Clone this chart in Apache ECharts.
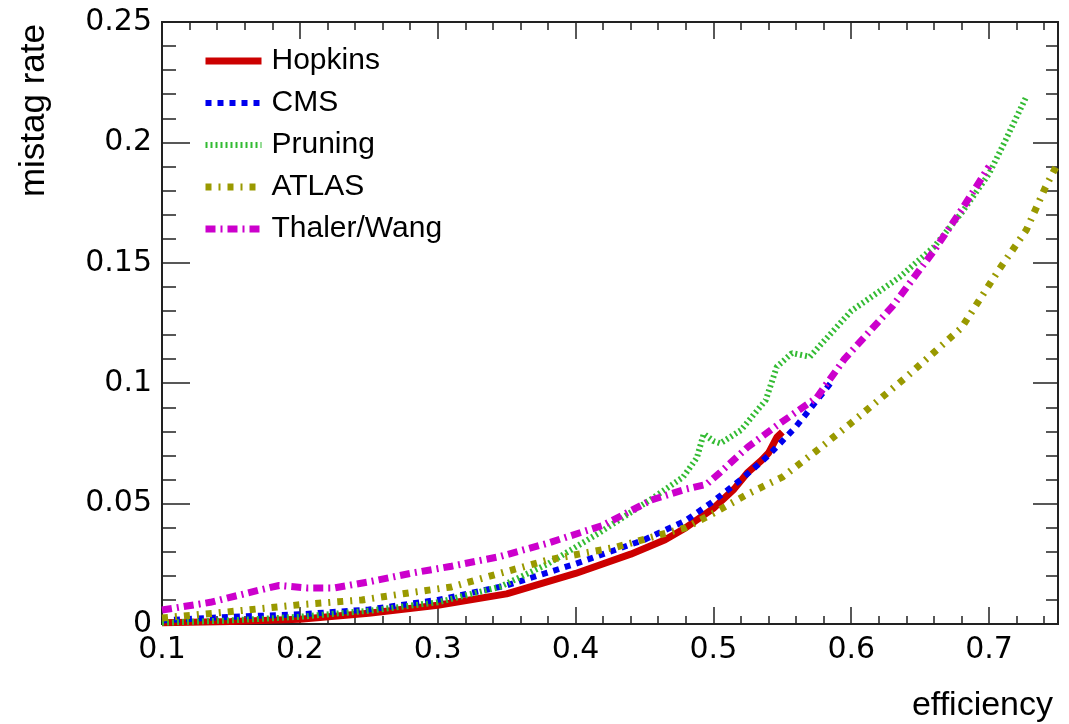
<!DOCTYPE html>
<html>
<head>
<meta charset="utf-8">
<script src="https://cdn.jsdelivr.net/npm/echarts@6/dist/echarts.min.js"></script>
<style>
  html, body { margin: 0; padding: 0; background: #fff; }
  #chart { width: 1069px; height: 724px; }
</style>
</head>
<body>
<div id="chart"></div>
<script>
// efficiency (x) / mistag rate (y)
var hopkinsX = [0.10, 0.15, 0.20, 0.25, 0.30, 0.35, 0.40, 0.44, 0.465, 0.48, 0.50, 0.515, 0.525, 0.535, 0.54, 0.546, 0.55];
var hopkinsY = [0.0005, 0.001, 0.002, 0.0045, 0.0078, 0.0125, 0.021, 0.029, 0.035, 0.040, 0.048, 0.056, 0.063, 0.068, 0.071, 0.0775, 0.0797];

var cmsX = [0.10, 0.15, 0.20, 0.25, 0.30, 0.35, 0.40, 0.45, 0.48, 0.50, 0.52, 0.54, 0.56, 0.585];
var cmsY = [0.0015, 0.003, 0.004, 0.006, 0.010, 0.016, 0.025, 0.035, 0.043, 0.051, 0.060, 0.070, 0.082, 0.100];

var pruningX = [0.10, 0.15, 0.20, 0.25, 0.30, 0.345, 0.38, 0.417, 0.454, 0.478, 0.488, 0.493, 0.50, 0.505, 0.52, 0.538, 0.546, 0.557, 0.57, 0.60, 0.635, 0.66, 0.68, 0.70, 0.712, 0.727];
var pruningY = [0.0005, 0.0015, 0.003, 0.0055, 0.009, 0.0154, 0.025, 0.0378, 0.0515, 0.061, 0.069, 0.079, 0.076, 0.075, 0.0805, 0.093, 0.1068, 0.1125, 0.111, 0.13, 0.144, 0.1566, 0.1707, 0.187, 0.201, 0.219];

var atlasX = [0.10, 0.14, 0.20, 0.245, 0.28, 0.31, 0.38, 0.43, 0.48, 0.50, 0.525, 0.55, 0.575, 0.60, 0.64, 0.68, 0.707, 0.727, 0.741, 0.75];
var atlasY = [0.0025, 0.0046, 0.008, 0.010, 0.013, 0.0154, 0.0266, 0.032, 0.040, 0.046, 0.054, 0.061, 0.072, 0.0835, 0.1026, 0.123, 0.147, 0.1636, 0.1815, 0.1914];

var thalerX = [0.10, 0.135, 0.17, 0.185, 0.205, 0.225, 0.25, 0.28, 0.31, 0.345, 0.38, 0.42, 0.44, 0.455, 0.48, 0.495, 0.505, 0.525, 0.545, 0.575, 0.595, 0.63, 0.66, 0.68, 0.70];
var thalerY = [0.0058, 0.009, 0.014, 0.016, 0.015, 0.015, 0.0175, 0.021, 0.024, 0.028, 0.0336, 0.041, 0.047, 0.0515, 0.056, 0.058, 0.063, 0.0735, 0.082, 0.094, 0.11, 0.132, 0.155, 0.172, 0.19];

var seriesNames = ['Hopkins', 'CMS', 'Pruning', 'ATLAS', 'Thaler/Wang'];

function zip (xs, ys) {
  return xs.map(function (x, i) { return [x, ys[i]]; });
}

var myChart = echarts.init(document.getElementById('chart'), null, { renderer: 'canvas' });

var frameColor = '#222';
var tickFont = { fontFamily: 'DejaVu Sans', fontSize: 30, color: '#000' };

function xAxisDef (pos, interval, len, labels) {
  return {
    type: 'value', position: pos, min: 0.1, max: 0.75, interval: interval,
    axisLine: { show: true, onZero: false, lineStyle: { color: frameColor, width: 2 } },
    axisTick: { show: true, inside: true, length: len, lineStyle: { color: frameColor, width: 1.5 } },
    axisLabel: labels ? Object.assign({ margin: 11, showMaxLabel: false }, tickFont) : { show: false },
    splitLine: { show: false }
  };
}

function yAxisDef (pos, len, minorLen, labels) {
  return {
    type: 'value', position: pos, min: 0, max: 0.25, interval: 0.05,
    axisLine: { show: true, onZero: false, lineStyle: { color: frameColor, width: 2 } },
    axisTick: { show: true, inside: true, length: len, lineStyle: { color: frameColor, width: 1.5 } },
    minorTick: { show: true, splitNumber: 5, length: minorLen, lineStyle: { color: frameColor, width: 1.5 } },
    axisLabel: labels ? Object.assign({ margin: 10 }, tickFont) : { show: false },
    splitLine: { show: false },
    minorSplitLine: { show: false }
  };
}

function lineSeries (name, xs, ys, color, width, dash) {
  return {
    name: name,
    type: 'line',
    xAxisIndex: 0,
    yAxisIndex: 0,
    data: zip(xs, ys),
    symbol: 'none',
    showSymbol: false,
    smooth: false,
    animation: false,
    lineStyle: { color: color, width: width, type: dash },
    itemStyle: { color: color }
  };
}

var option = {
  backgroundColor: '#fff',
  animation: false,
  grid: { left: 162, right: 11, top: 22, bottom: 100 },
  legend: {
    data: seriesNames,
    orient: 'vertical',
    left: 197,
    top: 41,
    itemWidth: 56,
    itemHeight: 20,
    itemGap: 12,
    itemStyle: { opacity: 0 },
    lineStyle: { width: 'inherit', opacity: 1 },
    textStyle: { fontFamily: 'Liberation Sans', fontSize: 30, color: '#000', padding: [0, 0, 0, 5] }
  },
  xAxis: [
    xAxisDef('bottom', 0.1, 17, true),
    xAxisDef('bottom', 0.02, 8, false),
    xAxisDef('top', 0.1, 17, false),
    xAxisDef('top', 0.02, 8, false)
  ],
  yAxis: [
    yAxisDef('left', 28, 14, true),
    yAxisDef('right', 25, 12, false)
  ],
  graphic: [
    {
      type: 'text', x: 34, y: 24, rotation: Math.PI / 2,
      style: { text: 'mistag rate', fontFamily: 'Liberation Sans', fontSize: 35, fill: '#000', align: 'right', verticalAlign: 'middle' }
    },
    {
      type: 'text', x: 1053, y: 706,
      style: { text: 'efficiency', fontFamily: 'Liberation Sans', fontSize: 34, fill: '#000', align: 'right', verticalAlign: 'middle' }
    }
  ],
  series: [
    lineSeries('Hopkins', hopkinsX, hopkinsY, '#cc0000', 7, 'solid'),
    lineSeries('CMS', cmsX, cmsY, '#0000ee', 6, [6, 6]),
    lineSeries('Pruning', pruningX, pruningY, '#33bb33', 6, [2, 3]),
    lineSeries('ATLAS', atlasX, atlasY, '#999900', 7, [6, 7, 2, 7]),
    lineSeries('Thaler/Wang', thalerX, thalerY, '#cc00cc', 7, [10, 5, 2, 5])
  ]
};

myChart.setOption(option);
window.addEventListener('resize', function () {
  myChart.resize();
});
</script>
</body>
</html>
